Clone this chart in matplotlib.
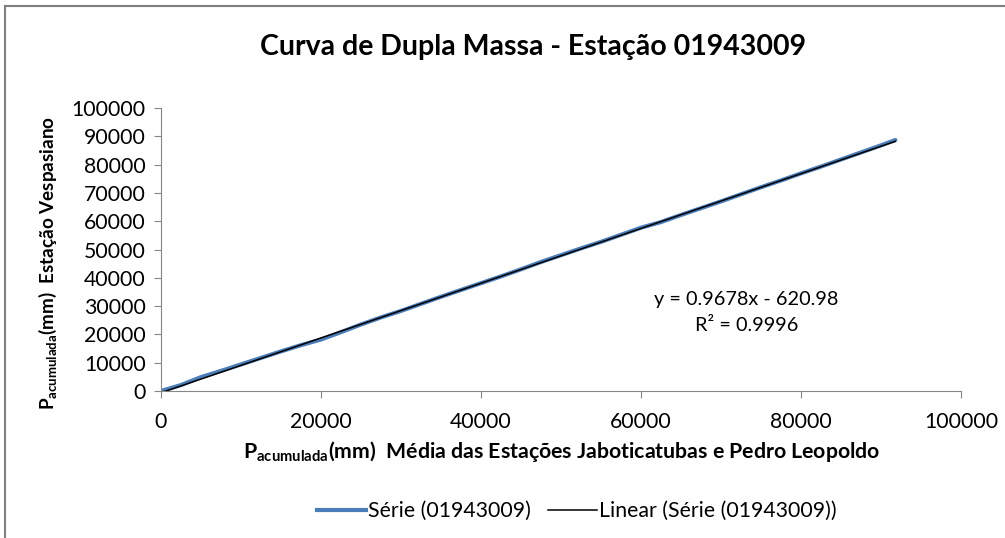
import numpy as np
import matplotlib
matplotlib.use("Agg")
from matplotlib import pyplot as plt
from matplotlib.lines import Line2D

plt.rcParams['font.family'] = ['Lato', 'DejaVu Sans']
plt.rcParams['mathtext.fontset'] = 'custom'
plt.rcParams['mathtext.rm'] = 'Lato'
plt.rcParams['mathtext.bf'] = 'Lato:bold'

# cumulative precipitation (mm): mean of Jaboticatubas / Pedro Leopoldo vs Vespasiano
p_media = [0, 2500, 5000, 7500, 10000, 12500, 15000, 17500, 20000, 22500,
           25000, 27500, 30000, 32500, 35000, 37500, 40000, 42500, 45000, 47500,
           50000, 52500, 55000, 57500, 60000, 62500, 65000, 67500, 70000, 72500,
           75000, 77500, 80000, 82500, 85000, 87500, 90000, 91800]
p_vespasiano = [0, 2100, 4900, 7100, 9400, 11700, 14000, 16200, 18200, 20800,
                23500, 26000, 28300, 30800, 33300, 35700, 38100, 40500, 43000, 45600,
                48000, 50400, 52700, 55200, 57700, 59700, 62200, 64600, 67000, 69500,
                72000, 74400, 76900, 79300, 81800, 84300, 86800, 88700]

# linear trend
slope = 0.9678
intercept = -620.98
r2 = 0.9996

blue = '#4A7EBB'
grey = '#868686'
fs = 15.3

W, H = 1005, 538
fig = plt.figure(figsize=(W / 100, H / 100), dpi=100)
ax = fig.add_axes([161/W, 1 - 391/H, 800/W, 283/H])

ax.plot(p_media, p_vespasiano, color=blue, lw=3.0, solid_capstyle='round')
xl = np.array([p_media[0], p_media[-1]])
ax.plot(xl, slope * xl + intercept, color='black', lw=1.1)

ax.set_xlim(0, 100000)
ax.set_ylim(0, 100000)
ax.set_xticks(np.arange(0, 100001, 20000))
ax.set_yticks(np.arange(0, 100001, 10000))
for s in ['top', 'right']:
    ax.spines[s].set_visible(False)
for s in ['left', 'bottom']:
    ax.spines[s].set_color(grey)
ax.tick_params(colors=grey, labelcolor='black', labelsize=fs, length=5, direction='out')
ax.tick_params(axis='x', pad=10)
ax.tick_params(axis='y', pad=6)

fig.text(533/W, 1 - 47/H, 'Curva de Dupla Massa - Estação 01943009', fontsize=20.5,
         fontweight='bold', ha='center', va='center')
fig.text(562/W, 1 - 451/H,
         r'$\mathbf{P_{acumulada}}$(mm)  Média das Estações Jaboticatubas e Pedro Leopoldo',
         fontsize=fs, fontweight='bold', ha='center', va='center')
fig.text(48/W, 1 - 263/H, r'$\mathbf{P_{acumulada}}$(mm)  Estação Vespasiano',
         fontsize=13.6, fontweight='bold', ha='center', va='center', rotation=90)

ax.text(73200, 32400, 'y = %.4fx - %.2f' % (slope, -intercept), fontsize=14.3,
        ha='center', va='center')
ax.text(73200, 23000, 'R² = %.4f' % r2, fontsize=14.3, ha='center', va='center')

handles = [Line2D([], [], color=blue, lw=3.0),
           Line2D([], [], color='black', lw=1.1)]
fig.legend(handles, ['Série (01943009)', 'Linear (Série (01943009))'],
           loc='center', bbox_to_anchor=(577/W, 1 - 511/H), ncol=2,
           frameon=False, fontsize=fs, handlelength=2.3, handletextpad=0.1,
           columnspacing=0.8)

# border of the chart box
fig.add_artist(Line2D([5/W, 5/W], [0, 1 - 6/H], color='#7f7f7f', lw=1.5,
                      transform=fig.transFigure))
fig.add_artist(Line2D([5/W, 1], [1 - 6/H, 1 - 6/H], color='#7f7f7f', lw=1.5,
                      transform=fig.transFigure))

fig.savefig('out.png', dpi=100)
